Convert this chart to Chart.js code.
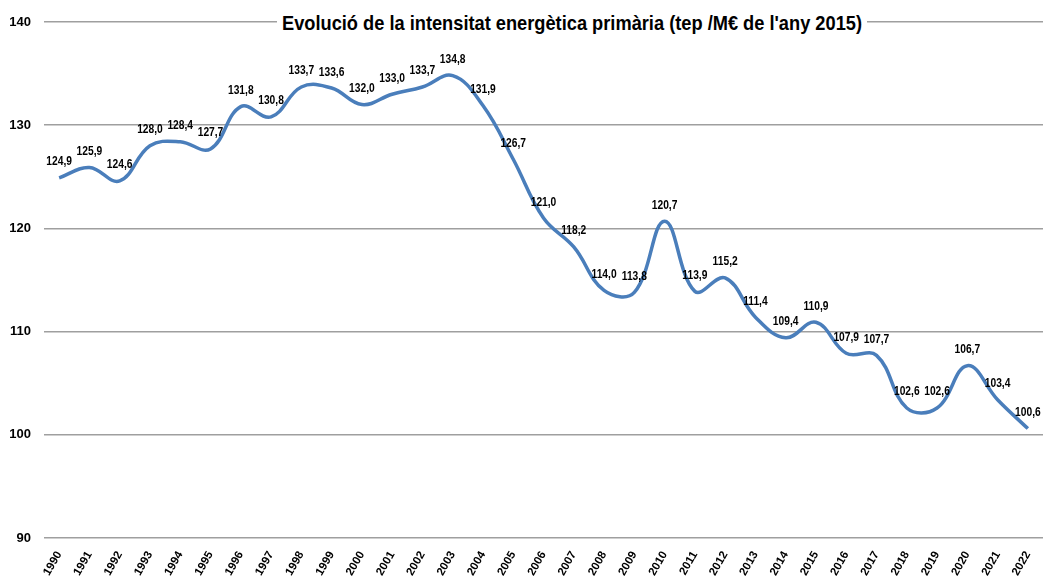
<!DOCTYPE html>
<html>
<head>
<meta charset="utf-8">
<script src="https://cdn.jsdelivr.net/npm/chart.js@4/dist/chart.umd.min.js"></script>
<style>
  html, body { margin: 0; padding: 0; background: #fff; }
  #wrap { position: relative; width: 1043px; height: 576px; overflow: hidden; }
  #title {
    position: absolute; top: 10px; left: 277px; height: 25px;
    background: #fff; padding: 0 5px; overflow: visible;
  }
  #titleText {
    display: inline-block; transform-origin: 0 0;
    font-family: 'Liberation Sans', Arial, sans-serif;
    font-weight: bold; font-size: 21px; color: #000; line-height: 25px; white-space: nowrap;
  }
</style>
</head>
<body>
<div id="wrap">
  <canvas id="c" width="1043" height="576"></canvas>
  <div id="title"><span id="titleText">Evolució de la intensitat energètica primària (tep /M€ de l'any 2015)</span></div>
</div>
<script>
const years = ['1990','1991','1992','1993','1994','1995','1996','1997','1998','1999','2000','2001','2002','2003','2004','2005','2006','2007','2008','2009','2010','2011','2012','2013','2014','2015','2016','2017','2018','2019','2020','2021','2022'];
const intensity = [124.9,125.9,124.6,128.0,128.4,127.7,131.8,130.8,133.7,133.6,132.0,133.0,133.7,134.8,131.9,126.7,121.0,118.2,114.0,113.8,120.7,113.9,115.2,111.4,109.4,110.9,107.9,107.7,102.6,102.6,106.7,103.4,100.6];
const yTicks = [90,100,110,120,130,140];

// fit title into the reference width (narrow look)
(function () {
  const t = document.getElementById('titleText');
  const w = t.getBoundingClientRect().width;
  const s = 580 / w;
  t.style.transform = 'scaleX(' + s + ')';
  document.getElementById('title').style.width = (580) + 'px';
})();

const sans = "'Liberation Sans', Arial, sans-serif";

const labelPlugin = {
  id: 'valueLabels',
  afterDatasetsDraw(chart) {
    const ctx = chart.ctx;
    const meta = chart.getDatasetMeta(0);
    ctx.save();
    ctx.font = 'bold 12.5px ' + sans;
    ctx.fillStyle = '#000';
    ctx.textAlign = 'center';
    ctx.textBaseline = 'middle';
    meta.data.forEach((pt, i) => {
      const v = chart.data.datasets[0].data[i];
      ctx.save();
      ctx.translate(pt.x, pt.y - 16);
      ctx.scale(0.82, 1);
      ctx.fillText(v.toFixed(1).replace('.', ','), 0, 0);
      ctx.restore();
    });
    ctx.restore();
  }
};

new Chart(document.getElementById('c'), {
  type: 'line',
  data: {
    labels: years,
    datasets: [{
      data: intensity,
      borderColor: '#4A7EBB',
      borderWidth: 3.5,
      pointRadius: 0,
      tension: 0.4,
      fill: false
    }]
  },
  options: {
    responsive: false,
    animation: false,
    layout: { padding: { top: 22, left: 0, right: 0, bottom: 0 } },
    plugins: { legend: { display: false }, title: { display: false }, tooltip: { enabled: false } },
    scales: {
      x: {
        offset: true,
        grid: { display: false },
        border: { display: false },
        afterFit(scale) { scale.height = 38; },
        ticks: {
          minRotation: 60, maxRotation: 60, autoSkip: false, padding: 3,
          color: '#000',
          font: { family: sans, weight: 'bold', size: 11.5 }
        }
      },
      y: {
        min: 90, max: 140,
        afterBuildTicks(axis) { axis.ticks = yTicks.map(v => ({ value: v })); },
        afterFit(scale) { scale.width = 44; },
        grid: { color: '#9f9f9f', lineWidth: 1.6, drawTicks: false },
        border: { display: false },
        ticks: {
          padding: 13, color: '#000',
          font: { family: sans, weight: 'bold', size: 13 }
        }
      }
    }
  },
  plugins: [labelPlugin]
});
</script>
</body>
</html>
